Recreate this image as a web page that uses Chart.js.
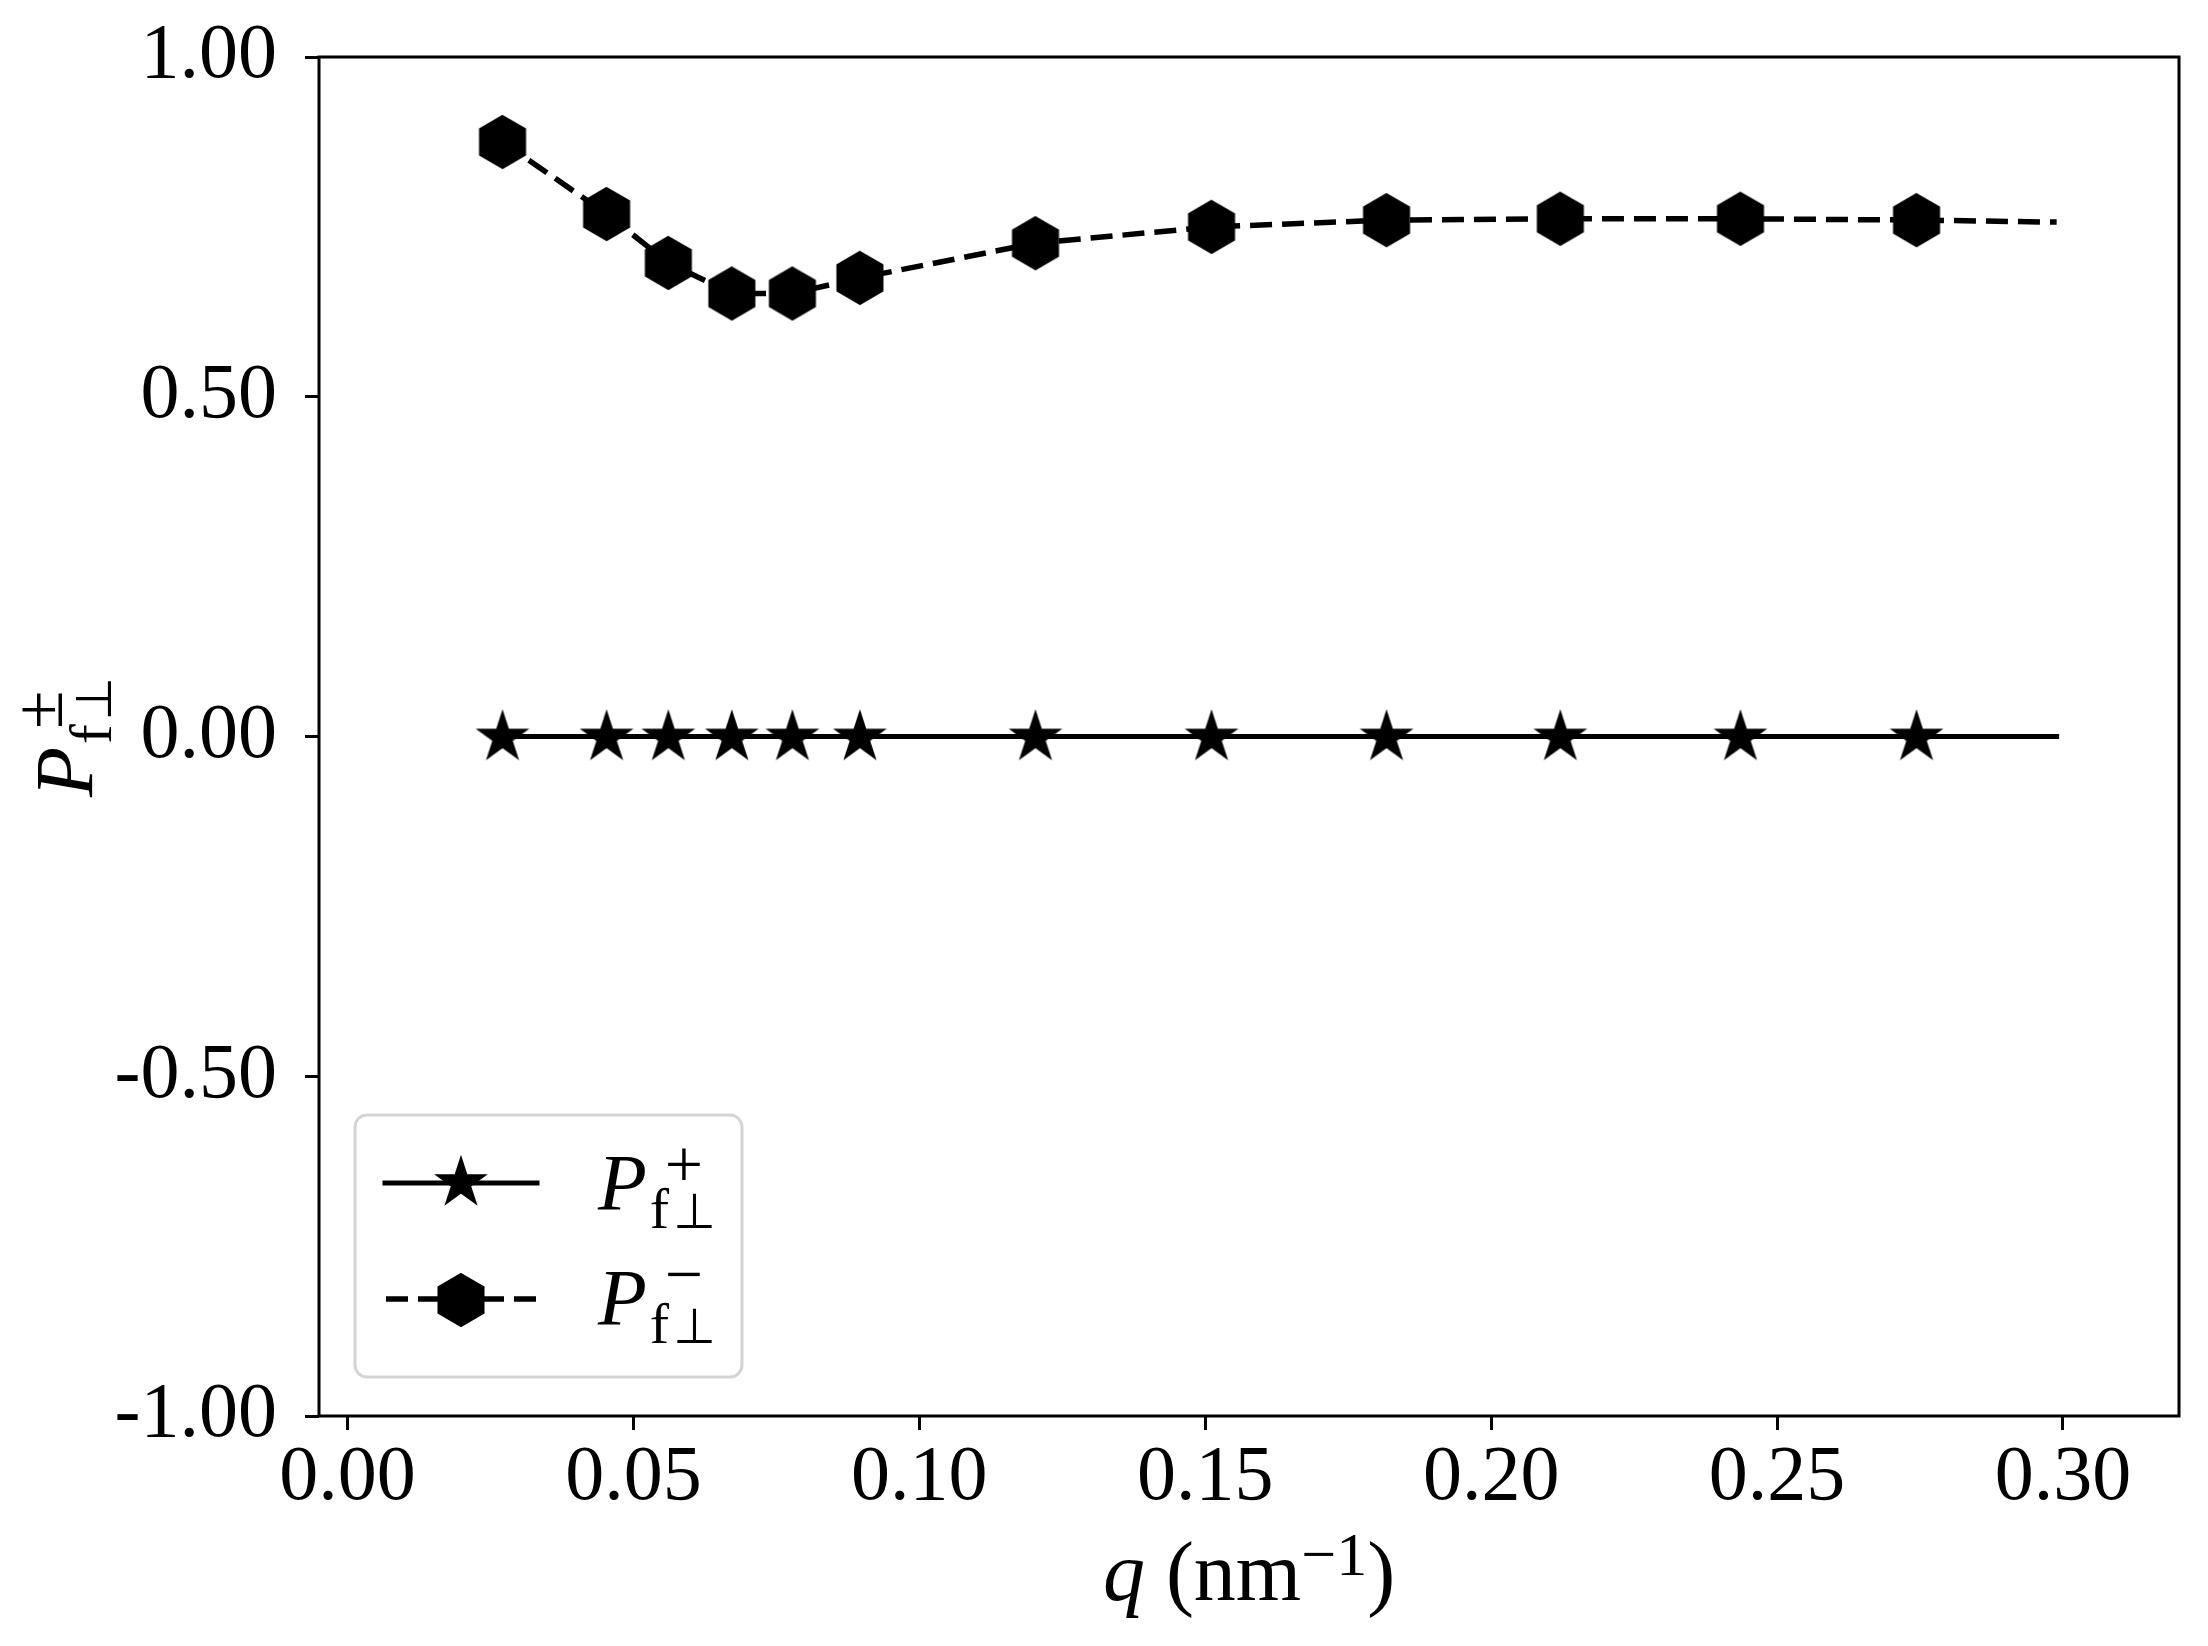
<!DOCTYPE html>
<html>
<head>
<meta charset="utf-8">
<script src="https://cdn.jsdelivr.net/npm/chart.js@4.4.1/dist/chart.umd.min.js"></script>
<style>
  html, body { margin: 0; padding: 0; background: #fff; }
  canvas { display: block; }
</style>
</head>
<body>
<canvas id="grafico" width="2208" height="1646"></canvas>
<script>
// datos
const qValores = [0.0271, 0.0453, 0.0561, 0.0672, 0.0778, 0.0896, 0.1203, 0.1511, 0.1817, 0.2121, 0.2436, 0.2744, 0.2989]
const pMas = [0, 0, 0, 0, 0, 0, 0, 0, 0, 0, 0, 0, 0]
const pMenos = [0.875, 0.769, 0.697, 0.652, 0.652, 0.675, 0.726, 0.750, 0.760, 0.762, 0.762, 0.760, 0.757]
const xTicks = [0, 0.05, 0.10, 0.15, 0.20, 0.25, 0.30]
const yTicks = [-1, -0.5, 0, 0.5, 1]

const SERIF = '"Liberation Serif", "Times New Roman", serif'

// marcadores como imagenes
function hacerMarcador(tipo) {
    const c = document.createElement('canvas')
    c.width = 60
    c.height = 60
    const g = c.getContext('2d')
    g.beginPath()
    if (tipo === 'estrella') {
        const R = 25, r = R * 0.381966
        for (let i = 0; i < 10; i++) {
            const a = (-90 + i * 36) * Math.PI / 180
            const rad = i % 2 ? r : R
            g.lineTo(30 + rad * Math.cos(a), 31 + rad * Math.sin(a))
        }
    } else {
        const R = 26
        for (let i = 0; i < 6; i++) {
            const a = (-90 + i * 60) * Math.PI / 180
            g.lineTo(30 + R * Math.cos(a), 30 + R * Math.sin(a))
        }
    }
    g.closePath()
    g.fillStyle = '#000'
    g.fill()
    g.lineWidth = 2
    g.strokeStyle = '#000'
    g.stroke()
    return c
}
const estrella = hacerMarcador('estrella')
const hexagono = hacerMarcador('hexagono')

const radios = qValores.map((v, i) => i === qValores.length - 1 ? 0 : 1)

// altura del signo del superindice
const alturaSigno = { '+': 0.29, '−': 0.35, '±': 0.36 }

// P con superindice y subindice f⊥
function dibujarP(ctx, x, y, size, sup) {
    ctx.textAlign = 'left'
    ctx.textBaseline = 'alphabetic'
    ctx.font = 'italic ' + size + 'px ' + SERIF
    ctx.fillText('P', x, y)
    const wP = ctx.measureText('P').width
    const small = Math.round(size * 0.72)
    ctx.font = small + 'px ' + SERIF
    ctx.fillText('f', x + wP + 3, y + size * 0.23)
    const wf = ctx.measureText('f').width
    ctx.font = Math.round(small * 0.85) + 'px "DejaVu Sans"'
    ctx.fillText('⊥', x + wP + 7 + wf, y + size * 0.23)
    ctx.font = Math.round(size * 0.85) + 'px ' + SERIF
    ctx.fillText(sup, x + wP + 18, y - size * alturaSigno[sup])
}

function anchoP(ctx, size) {
    ctx.font = 'italic ' + size + 'px ' + SERIF
    const wP = ctx.measureText('P').width
    return wP + 7 + size * 0.72 * 1.1
}

const extras = {
    id: 'extras',
    afterDraw(chart) {
        const ctx = chart.ctx
        const a = chart.chartArea
        ctx.save()
        // marco
        ctx.strokeStyle = '#000'
        ctx.lineWidth = 3
        ctx.strokeRect(a.left, a.top, a.right - a.left, a.bottom - a.top)

        // leyenda
        ctx.beginPath()
        ctx.roundRect(355, 1115, 387, 262, 12)
        ctx.fillStyle = 'rgba(255,255,255,0.8)'
        ctx.fill()
        ctx.strokeStyle = '#d4d4d4'
        ctx.lineWidth = 3
        ctx.stroke()

        ctx.strokeStyle = '#000'
        ctx.lineWidth = 5
        ctx.lineCap = 'square'
        ctx.beginPath()
        ctx.moveTo(385, 1183)
        ctx.lineTo(537, 1183)
        ctx.stroke()
        ctx.drawImage(estrella, 461 - 30, 1183 - 31)

        ctx.lineCap = 'butt'
        ctx.lineWidth = 5.5
        ctx.setLineDash([22, 10])
        ctx.beginPath()
        ctx.moveTo(386, 1299)
        ctx.lineTo(536, 1299)
        ctx.stroke()
        ctx.setLineDash([])
        ctx.drawImage(hexagono, 461 - 30, 1300 - 30)

        ctx.fillStyle = '#000'
        dibujarP(ctx, 598, 1210, 80, '+')
        dibujarP(ctx, 598, 1325, 80, '−')

        // titulo eje y
        ctx.save()
        ctx.translate(92, 736)
        ctx.rotate(-Math.PI / 2)
        const w = anchoP(ctx, 82)
        dibujarP(ctx, -w / 2, 0, 82, '±')
        ctx.restore()

        // titulo eje x
        const partes = [
            { t: 'q', f: 'italic 84px ' + SERIF, dy: 0 },
            { t: ' (nm', f: '84px ' + SERIF, dy: 0 },
            { t: '−1', f: '62px ' + SERIF, dy: -25 },
            { t: ')', f: '84px ' + SERIF, dy: 0 }
        ]
        let total = 0
        partes.forEach(p => { ctx.font = p.f; p.w = ctx.measureText(p.t).width; total += p.w })
        let x = (a.left + a.right) / 2 - total / 2
        ctx.textAlign = 'left'
        ctx.textBaseline = 'alphabetic'
        partes.forEach(p => {
            ctx.font = p.f
            ctx.fillText(p.t, x, 1600 + p.dy)
            x += p.w
        })
        ctx.restore()
    }
}

const ctx = document.getElementById('grafico')

new Chart(ctx, {
    type: 'line',
    data: {
        labels: qValores,
        datasets: [{
            label: 'P+',
            data: qValores.map((q, i) => ({ x: q, y: pMas[i] })),
            borderColor: '#000',
            backgroundColor: '#000',
            borderWidth: 5,
            borderCapStyle: 'square',
            pointStyle: estrella,
            pointRadius: radios,
            pointHoverRadius: radios,
            tension: 0
        }, {
            label: 'P-',
            data: qValores.map((q, i) => ({ x: q, y: pMenos[i] })),
            borderColor: '#000',
            backgroundColor: '#000',
            borderWidth: 5.5,
            borderDash: [22, 10],
            pointStyle: hexagono,
            pointRadius: radios,
            pointHoverRadius: radios,
            tension: 0
        }]
    },
    options: {
        responsive: false,
        animation: false,
        devicePixelRatio: 1,
        layout: { padding: { left: 0, right: 29, top: 57, bottom: 0 } },
        plugins: {
            legend: { display: false },
            tooltip: { enabled: false }
        },
        scales: {
            x: {
                type: 'linear',
                min: -0.005,
                max: 0.3203,
                afterFit: s => { s.height = 1646 - 1416; s.paddingLeft = 0; s.paddingRight = 0 },
                afterBuildTicks: s => { s.ticks = xTicks.map(v => ({ value: v })) },
                border: { display: false },
                grid: { drawOnChartArea: false, drawTicks: true, tickLength: 14, lineWidth: 3, color: '#000' },
                ticks: {
                    autoSkip: false,
                    maxRotation: 0,
                    padding: 2,
                    color: '#000',
                    font: { family: SERIF, size: 78 },
                    callback: v => Number(v).toFixed(2)
                }
            },
            y: {
                type: 'linear',
                min: -1,
                max: 1,
                afterFit: s => { s.width = 319; s.paddingTop = 0; s.paddingBottom = 0 },
                afterBuildTicks: s => { s.ticks = yTicks.map(v => ({ value: v })) },
                border: { display: false },
                grid: { drawOnChartArea: false, drawTicks: true, tickLength: 14, lineWidth: 3, color: '#000' },
                ticks: {
                    autoSkip: false,
                    padding: 28,
                    color: '#000',
                    font: { family: SERIF, size: 78 },
                    callback: v => Number(v).toFixed(2)
                }
            }
        }
    },
    plugins: [extras]
})
</script>
</body>
</html>
